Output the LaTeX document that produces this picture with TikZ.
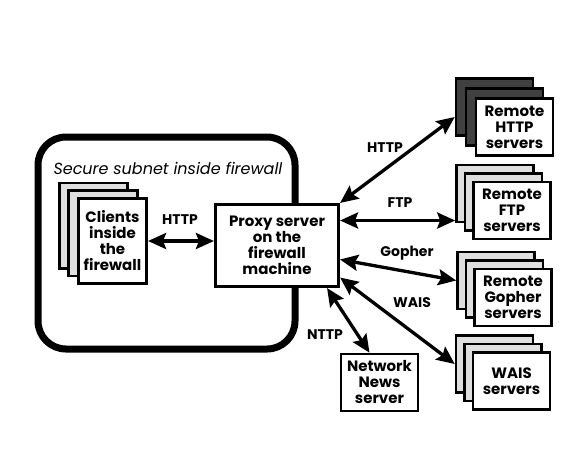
\documentclass[tikz,border=0pt]{standalone}
\usepackage{fontspec}
\setmainfont{Poppins}
\usetikzlibrary{arrows.meta}

\newcommand{\boxfont}{\bfseries\fontsize{15}{16}\selectfont}
\newcommand{\lblfont}{\bfseries\fontsize{14}{14}\selectfont}

\tikzset{
  sheet/.style={draw,line width=2.6pt,minimum width=77pt,minimum height=57pt,inner sep=0pt},
  front/.style={sheet,fill=white,align=center,font=\boxfont},
  lbl/.style={font=\lblfont,inner sep=1pt},
  link/.style={line width=3.3pt,<->},
  >={Stealth[length=18pt,width=16pt,inset=3pt]}
}

\begin{document}
\begin{tikzpicture}[x=1pt,y=-1pt]
\useasboundingbox (0,0) rectangle (572,461);

% the secure subnet
\node[draw,line width=7pt,rounded corners=28pt,minimum width=257pt,minimum height=212pt] (subnet) at (166.5,243) {};
\node[anchor=west,font=\itshape\fontsize{16}{16}\selectfont] (title) at (50,168) {Secure subnet inside firewall};

% clients
\foreach \i/\d in {1/19,2/9.5}
  \node[sheet,fill=gray!25,minimum width=68.5pt,minimum height=85.5pt] (clients-\i) at (112.5-\d,241-0.8*\d) {};
\node[front,minimum width=68.5pt,minimum height=85.5pt] (clients) at (112.5,241) {Clients\\inside\\the\\firewall};

\node[front,minimum width=123.5pt,minimum height=82.5pt] (proxy) at (277,245.5) {Proxy server\\on the\\firewall\\machine};

% remote servers
\foreach \n/\x/\y/\d/\c in {http/514.5/127/10/black!75,ftp/512/210.5/8.5/gray!25,gopher/513/297.5/8.5/gray!25,wais/511.5/381/8.5/gray!25} {
  \node[sheet,fill=\c] (\n-1) at (\x-2*\d,\y-2*\d) {};
  \node[sheet,fill=\c] (\n-2) at (\x-\d,\y-\d) {};
}
\node[front] (http) at (514.5,127) {Remote\\HTTP\\servers};
\node[front] (ftp) at (512,210.5) {Remote\\FTP\\servers};
\node[front] (gopher) at (513,297.5) {Remote\\Gopher\\servers};
\node[front] (wais) at (511.5,381) {WAIS\\servers};
\node[front] (news) at (379.5,382.5) {Network\\News\\server};

% links
\draw[link] (clients.east) -- (clients.east -| proxy.west);
\draw[link] (proxy.north east) -- ([yshift=-10pt]http-1.west);
\draw[link] ([yshift=25pt]proxy.east) -- ([yshift=-27pt]ftp-1.west);
\draw[link] ([yshift=-14pt]proxy.east) -- (gopher-1.west);
\draw[link] ([yshift=-32pt]proxy.east) -- (wais-1.west);
\draw[link] ([xshift=-13pt]proxy.south east) -- ([xshift=-10pt]news.north);

\node[lbl] (l-clients) at (180,220) {HTTP};
\node[lbl] (l-http) at (385,148) {HTTP};
\node[lbl] (l-ftp) at (400,203) {FTP};
\node[lbl] (l-gopher) at (407,253) {Gopher};
\node[lbl] (l-wais) at (412,303) {WAIS};
\node[lbl] (l-news) at (325,335) {NTTP};
\end{tikzpicture}
\end{document}
